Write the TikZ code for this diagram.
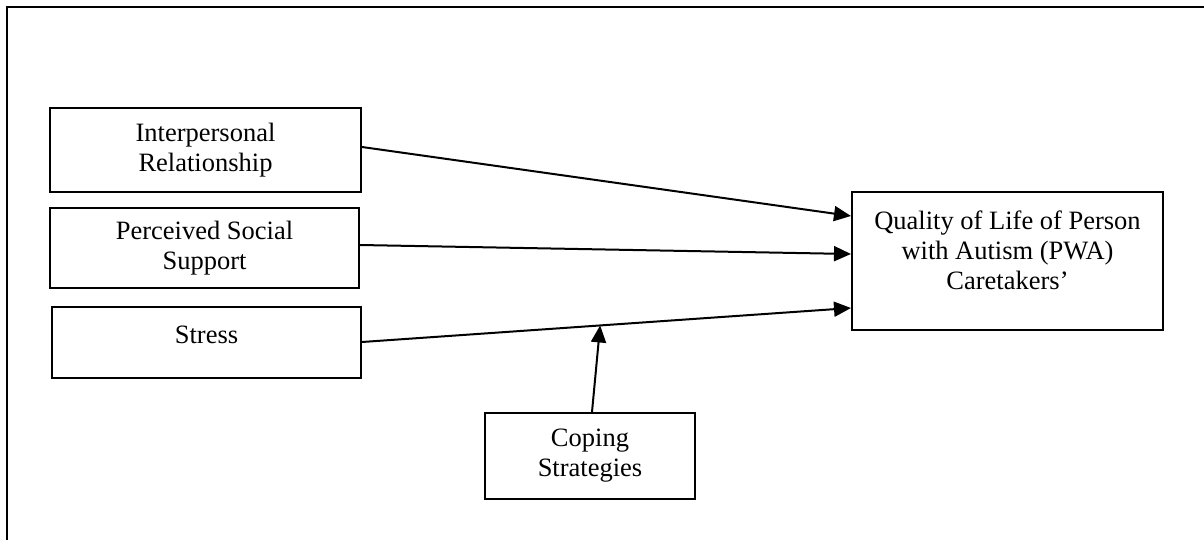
\documentclass[tikz,border=0pt]{standalone}
\usepackage{fontspec}
\setmainfont{Liberation Serif}
\usetikzlibrary{arrows.meta,calc}
\begin{document}
\begin{tikzpicture}[x=1pt,y=-1pt,
  box/.style={draw, line width=2pt, align=center, inner sep=0pt,
    font=\fontsize{26.5}{30}\selectfont},
  arr/.style={line width=2pt, -{Triangle[length=17pt,width=15pt]}}]
\useasboundingbox (0,0) rectangle (1204,540);
\draw[line width=2pt] (7,541) -- (7,7) -- (1205,7);
\node[box, minimum width=311pt, minimum height=84pt] (ip) at (205.5,150) {Interpersonal\\Relationship};
\node[box, minimum width=309pt, minimum height=80pt] (ps) at (204.5,248) {Perceived Social\\Support};
\node[box, minimum width=309pt, minimum height=71pt] (st) at (206.5,342.5) {Stress\\[-15pt]\mbox{}};
\node[box, minimum width=311pt, minimum height=138pt] (q) at (1007.5,261) {Quality of Life of Person\\with Autism (PWA)\\Caretakers’\\[-8pt]\mbox{}};
\node[box, minimum width=210pt, minimum height=86pt] (cs) at (590,456) {Coping\\Strategies};
\draw[arr] ([yshift=3pt]ip.east) -- ([yshift=45pt]q.west);
\draw[arr] ([yshift=3pt]ps.east) -- ([yshift=7pt]q.west);
\draw[arr] ([yshift=0.5pt]st.east) -- coordinate[pos=0.487] (mod) ([yshift=-47pt]q.west);
\draw[arr] ([xshift=2pt]cs.north) -- (mod);
\end{tikzpicture}
\end{document}
